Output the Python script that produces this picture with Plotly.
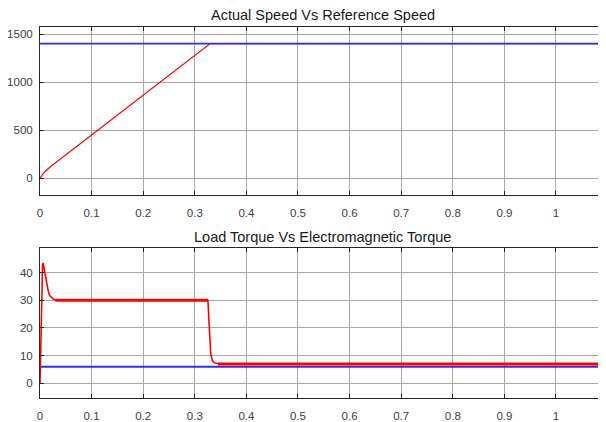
import plotly.graph_objects as go
from plotly.subplots import make_subplots

# ---- data ----
t_speed = [0, 0.003, 0.008, 0.02, 0.1, 0.2, 0.3, 0.33, 1.095]
actual_speed = [0, 25, 60, 120, 450, 863, 1276, 1400, 1400]
t_ref = [0, 1.095]
reference_speed = [1400, 1400]

t_te = [0, 0.002, 0.004, 0.005, 0.006, 0.008, 0.010, 0.013, 0.016, 0.019, 0.023, 0.026,
        0.03, 0.1, 0.2, 0.3, 0.3255, 0.327, 0.329, 0.331, 0.334, 0.338, 0.345, 0.36, 1.095]
electromagnetic_torque = [0, 20, 38, 43, 43.5, 41.5, 38.5, 35.8, 33.3, 31.6, 30.7, 30.4,
                          30.1, 30, 30, 30, 30, 24, 15, 10.5, 8.2, 7.4, 7.1, 7.0, 7.0]
# steady (rippling) portions of the torque, drawn as a thicker band
t_te_steady = [0.03, 0.3255, None, 0.345, 1.095]
te_steady = [30, 30, None, 7.0, 7.0]
t_load = [0, 1.095]
load_torque = [6, 6]

x_ticks = [0, 0.1, 0.2, 0.3, 0.4, 0.5, 0.6, 0.7, 0.8, 0.9, 1]
x_tick_text = ["0", "0.1", "0.2", "0.3", "0.4", "0.5", "0.6", "0.7", "0.8", "0.9", "1"]
speed_ticks = [0, 500, 1000, 1500]
torque_ticks = [0, 10, 20, 30, 40]

titles = ["Actual Speed Vs Reference Speed", "Load Torque Vs Electromagnetic Torque"]

RED = "#ff0000"
BLUE = "rgb(45,45,255)"

fig = make_subplots(rows=2, cols=1)

fig.add_trace(go.Scatter(x=t_speed, y=actual_speed, mode="lines",
                         line=dict(color=RED, width=1.2), showlegend=False), row=1, col=1)
fig.add_trace(go.Scatter(x=t_ref, y=reference_speed, mode="lines",
                         line=dict(color=BLUE, width=1.8), showlegend=False), row=1, col=1)

fig.add_trace(go.Scatter(x=t_load, y=load_torque, mode="lines",
                         line=dict(color=BLUE, width=2), showlegend=False), row=2, col=1)
fig.add_trace(go.Scatter(x=t_te, y=electromagnetic_torque, mode="lines",
                         line=dict(color=RED, width=1.6), showlegend=False), row=2, col=1)
fig.add_trace(go.Scatter(x=t_te_steady, y=te_steady, mode="lines", connectgaps=False,
                         line=dict(color=RED, width=3.0), showlegend=False), row=2, col=1)

H = 422.0
OFF = 8.0  # the page body adds an 8px offset; compensate for it

axis_common = dict(
    showline=True, linecolor="#262626", linewidth=1, mirror="ticks",
    ticks="inside", ticklen=4, tickcolor="#262626",
    showgrid=True, gridcolor="#a8a8a8", gridwidth=1,
    zeroline=False,
    tickfont=dict(family="Liberation Sans", size=11.5, color="#404040"),
)

fig.update_xaxes(**axis_common, range=[0, 1.095], tickvals=x_ticks, ticktext=x_tick_text,
                 ticklabelstandoff=7)
fig.update_yaxes(**axis_common, ticklabelstandoff=4)

fig.update_yaxes(range=[-174, 1576], tickvals=speed_ticks, row=1, col=1)
fig.update_yaxes(range=[-5.2, 49.0], tickvals=torque_ticks, row=2, col=1)

fig.update_layout(
    width=606, height=422,
    margin=dict(l=40 - OFF, r=606 - (605.5 - OFF), t=0, b=0),
    paper_bgcolor="white", plot_bgcolor="white",
    showlegend=False,
    yaxis=dict(domain=[1 - (195 - OFF) / H, 1 - (26.7 - OFF) / H]),
    yaxis2=dict(domain=[1 - (397.7 - OFF) / H, 1 - (247.7 - OFF) / H]),
)

for txt, ypix in zip(titles, [15, 237]):
    fig.add_annotation(text=txt, xref="x domain", yref="paper", x=0.5, y=1 - (ypix - OFF) / H,
                       xanchor="center", yanchor="middle", showarrow=False,
                       font=dict(family="Liberation Sans", size=14.5, color="#1a1a1a"))

fig.write_html("out.html")
